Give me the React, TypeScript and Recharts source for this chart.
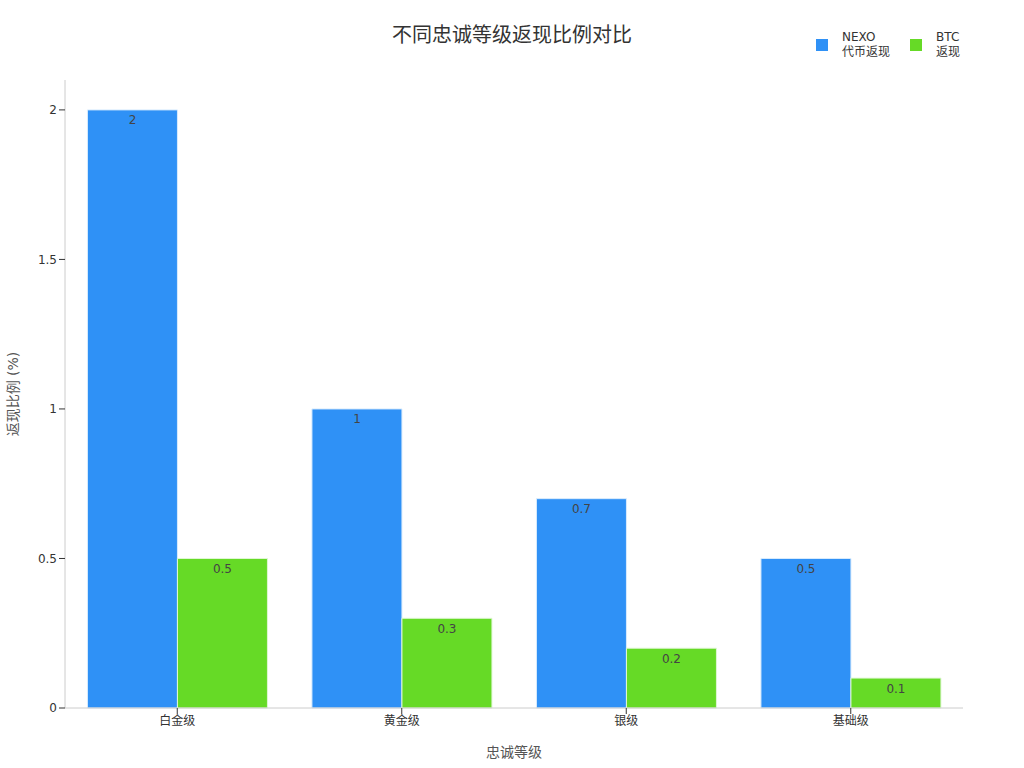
import React from 'react';
import { BarChart, Bar, XAxis, YAxis, LabelList } from 'recharts';

const categories = ['白金级', '黄金级', '银级', '基础级'];
const nexoValues = [2, 1, 0.7, 0.5];
const btcValues = [0.5, 0.3, 0.2, 0.1];
const yTicks = [0, 0.5, 1, 1.5, 2];

const FONT = '"DejaVu Sans", "Noto Sans CJK SC", sans-serif';
const BLUE = '#2F91F6';
const GREEN = '#66DA26';

const data = categories.map((name, i) => ({
  name,
  nexo: nexoValues[i],
  btc: btcValues[i],
}));

const legendItems = [
  { color: BLUE, lines: ['NEXO', '代币返现'] },
  { color: GREEN, lines: ['BTC', '返现'] },
];

// legend sits top-right, outside the plot area
const ChartLegend = () => (
  <div
    style={{
      position: 'absolute',
      top: 30,
      left: 816,
      display: 'flex',
      fontFamily: FONT,
      fontSize: 12,
      color: '#333',
    }}
  >
    {legendItems.map((item) => (
      <div key={item.lines[0]} style={{ display: 'flex', alignItems: 'center', marginRight: 20 }}>
        <div style={{ width: 12, height: 12, background: item.color, marginRight: 14 }} />
        <div style={{ lineHeight: '15px' }}>
          {item.lines.map((l) => (
            <div key={l}>{l}</div>
          ))}
        </div>
      </div>
    ))}
  </div>
);

export default function App() {
  return (
    <div style={{ position: 'absolute', left: 0, top: 0, width: 1024, height: 768, background: '#fff' }}>
      <div
        style={{
          position: 'absolute',
          top: 19,
          left: 0,
          width: 1024,
          textAlign: 'center',
          fontFamily: FONT,
          fontSize: 20,
          color: '#333',
        }}
      >
        不同忠诚等级返现比例对比
      </div>
      <ChartLegend />
      <BarChart
        width={1024}
        height={768}
        data={data}
        margin={{ top: 80, right: 61, left: 5, bottom: 10 }}
        barCategoryGap="10%"
        barGap={0}
      >
        <XAxis
          dataKey="name"
          height={50}
          stroke="#ccc"
          tick={{ fill: '#333', fontSize: 12, fontFamily: FONT }}
          tickLine={{ stroke: '#333' }}
          label={{ value: '忠诚等级', position: 'insideBottom', offset: 1, fill: '#555', fontSize: 14, fontFamily: FONT }}
        />
        <YAxis
          width={60}
          domain={[0, 2.1]}
          ticks={yTicks}
          stroke="#ccc"
          tick={{ fill: '#333', fontSize: 12, fontFamily: FONT }}
          tickLine={{ stroke: '#333' }}
          label={{
            value: '返现比例 (%)',
            angle: -90,
            position: 'insideLeft',
            offset: 8,
            fill: '#555',
            fontSize: 14,
            fontFamily: FONT,
            style: { textAnchor: 'middle' },
          }}
        />
        <Bar dataKey="nexo" fill={BLUE} stroke="#d8ebfd" strokeWidth={1} isAnimationActive={false}>
          <LabelList dataKey="nexo" position="insideTop" offset={6} fill="#444" fontSize={12} fontFamily={FONT} />
        </Bar>
        <Bar dataKey="btc" fill={GREEN} stroke="#e0f7d4" strokeWidth={1} isAnimationActive={false}>
          <LabelList dataKey="btc" position="insideTop" offset={6} fill="#444" fontSize={12} fontFamily={FONT} />
        </Bar>
      </BarChart>
    </div>
  );
}
